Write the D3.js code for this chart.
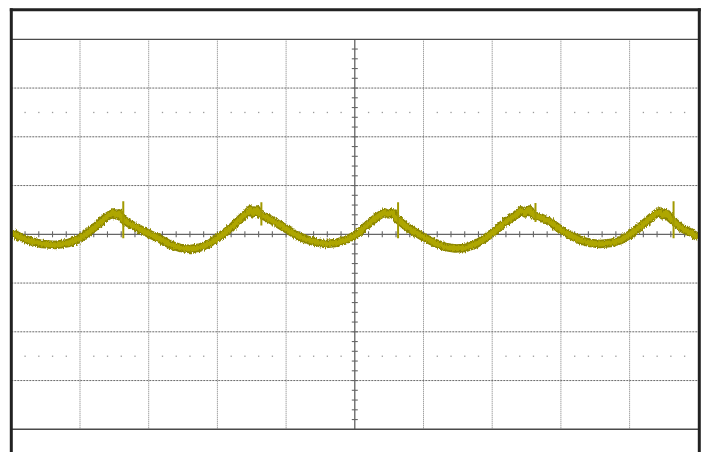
<!DOCTYPE html>
<html><head><meta charset="utf-8">
<script src="https://cdn.jsdelivr.net/npm/d3@7"></script>
<style>html,body{margin:0;padding:0;background:#fff;overflow:hidden}</style>
</head><body><svg id="c" width="704" height="452"></svg>
<script>
// Horizontal: 100 µs/div (10 div), vertical: 100 mV/div (8 div)
const timeUs = [0,13,28,45,64,83,98,112,127,138,149,153,157,162,173,188,202,217,231,246,261,275,290,304,319,333,344,348,352,357,362,371,384,399,413,428,443,457,472,486,501,511,523,534,543,549,555,560,575,588,603,617,632,646,661,675,690,705,719,734,742,748,754,760,770,785,799,814,828,843,857,872,887,901,916,930,939,943,948,953,959,974,988,1000];
const voltsMv = [4,-6,-14,-20,-22,-18,-10,4,21,35,45,39,43,31,21,10,0,-10,-21,-28,-30,-27,-18,-4,12,31,45,51,43,51,41,35,25,12,0,-10,-16,-20,-18,-12,-2,10,25,37,45,41,45,33,16,4,-8,-18,-26,-29,-28,-21,-8,8,25,39,49,43,51,39,35,25,10,-2,-12,-18,-20,-18,-12,0,16,33,43,47,39,45,33,14,4,-6];
const spikeTimeUs = [163, 364, 563, 763, 964];
const spikeTopMv = [68, 66, 66, 64, 68];
const spikeBottomMv = [-8, 18, -8, 25, -8];
const timeDomain = [0, 1000];
const voltDomain = [-400, 400];
const divTime = 100, divVolt = 100, minorTime = 20, minorVolt = 20;
const markerVolts = [-250, 250];

const svg = d3.select('#c');
const x = d3.scaleLinear().domain(timeDomain).range([11.3, 698.3]);
const y = d3.scaleLinear().domain(voltDomain).range([429.3, 39.3]);

const defs = svg.append('defs');
const filt = defs.append('filter').attr('id', 'fuzz').attr('x', '-5%').attr('y', '-50%').attr('width', '110%').attr('height', '200%');
filt.append('feTurbulence').attr('type', 'fractalNoise').attr('baseFrequency', '0.9 0.25').attr('numOctaves', 2).attr('seed', 3).attr('result', 'n');
filt.append('feDisplacementMap').attr('in', 'SourceGraphic').attr('in2', 'n').attr('scale', 4)
  .attr('xChannelSelector', 'R').attr('yChannelSelector', 'G');

const gridT = d3.range(timeDomain[0] + divTime, timeDomain[1], divTime).filter(t => t !== 500);
const gridV = d3.range(voltDomain[0] + divVolt, voltDomain[1], divVolt).filter(v => v !== 0);

const g = svg.append('g');
g.selectAll('.gx').data(gridT).join('line')
  .attr('x1', d => x(d)).attr('x2', d => x(d)).attr('y1', y(400)).attr('y2', y(-400))
  .attr('stroke', '#7c7c7c').attr('stroke-width', 1).attr('stroke-dasharray', '1,1');
g.selectAll('.gy').data(gridV).join('line')
  .attr('y1', d => y(d)).attr('y2', d => y(d)).attr('x1', x(0)).attr('x2', x(1000))
  .attr('stroke', '#6a6a6a').attr('stroke-width', 1).attr('stroke-dasharray', '2,1');

// marker dot rows
const dotT = d3.range(timeDomain[0] + minorTime, timeDomain[1], minorTime).filter(t => t % divTime !== 0);
markerVolts.forEach(mv => {
  g.selectAll(null).data(dotT).join('rect')
    .attr('x', d => x(d) - 0.6).attr('y', y(mv) - 0.6).attr('width', 1.3).attr('height', 1.3)
    .attr('fill', '#9a9a9a');
});

// center axes
g.append('line').attr('x1', x(500)).attr('x2', x(500)).attr('y1', y(400)).attr('y2', y(-400))
  .attr('stroke', '#555').attr('stroke-width', 1.2);
g.append('line').attr('y1', y(0)).attr('y2', y(0)).attr('x1', x(0)).attr('x2', x(1000))
  .attr('stroke', '#666').attr('stroke-width', 1.2);
const tickT = d3.range(timeDomain[0] + minorTime, timeDomain[1], minorTime);
g.selectAll(null).data(tickT).join('line')
  .attr('x1', d => x(d)).attr('x2', d => x(d)).attr('y1', y(0) - 3).attr('y2', y(0) + 3)
  .attr('stroke', '#666').attr('stroke-width', 1.1);
const tickV = d3.range(voltDomain[0] + minorVolt, voltDomain[1], minorVolt);
g.selectAll(null).data(tickV).join('line')
  .attr('y1', d => y(d)).attr('y2', d => y(d)).attr('x1', x(500) - 3).attr('x2', x(500) + 3)
  .attr('stroke', '#666').attr('stroke-width', 1.1);

// trace
const pts = timeUs.map((t, i) => [t, voltsMv[i]]);
const line = d3.line().x(d => x(d[0])).y(d => y(d[1]));
defs.append('clipPath').attr('id', 'clip').append('rect')
  .attr('x', x(0)).attr('y', y(400)).attr('width', x(1000) - x(0)).attr('height', y(-400) - y(400));
const clipG = svg.append('g').attr('clip-path', 'url(#clip)');
const tr = clipG.append('g').attr('filter', 'url(#fuzz)');
tr.append('path').attr('d', line(pts)).attr('fill', 'none')
  .attr('stroke', '#8c8600').attr('stroke-width', 8.5).attr('stroke-linejoin', 'round');
tr.append('path').attr('d', line(pts)).attr('fill', 'none')
  .attr('stroke', '#aea600').attr('stroke-width', 5).attr('stroke-linejoin', 'round');
clipG.selectAll(null).data(spikeTimeUs).join('line')
  .attr('x1', d => x(d)).attr('x2', d => x(d))
  .attr('y1', (d, i) => y(spikeTopMv[i])).attr('y2', (d, i) => y(spikeBottomMv[i]))
  .attr('stroke', '#a19900').attr('stroke-width', 2);

// frame
const f = svg.append('g');
f.append('line').attr('x1', x(0)).attr('x2', 699.3).attr('y1', y(400)).attr('y2', y(400)).attr('stroke', '#4a4a4a').attr('stroke-width', 1.3);
f.append('line').attr('x1', x(0)).attr('x2', 699.3).attr('y1', y(-400)).attr('y2', y(-400)).attr('stroke', '#4a4a4a').attr('stroke-width', 1.5);
f.append('line').attr('x1', 9.8).attr('x2', 700.8).attr('y1', 9.7).attr('y2', 9.7).attr('stroke', '#222').attr('stroke-width', 3);
f.append('line').attr('x1', 11.3).attr('x2', 11.3).attr('y1', 8.2).attr('y2', 452).attr('stroke', '#222').attr('stroke-width', 3);
f.append('line').attr('x1', 699.3).attr('x2', 699.3).attr('y1', 8.2).attr('y2', 452).attr('stroke', '#222').attr('stroke-width', 3);
</script></body></html>
